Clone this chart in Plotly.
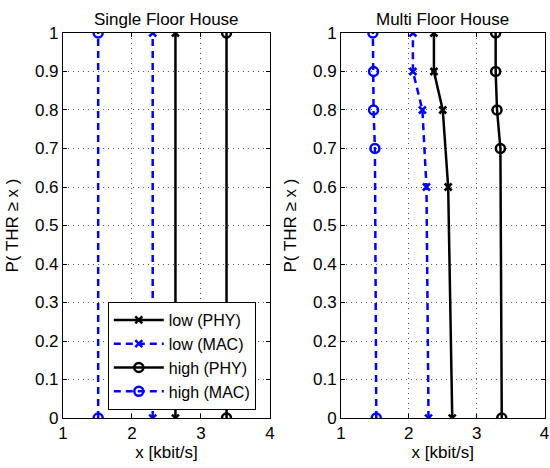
import plotly.graph_objects as go

# Single floor house
sf_y = [0, 1]
sf_low_phy = [2.63, 2.63]
sf_low_mac = [2.30, 2.30]
sf_high_phy = [3.37, 3.37]
sf_high_mac = [1.51, 1.51]

# Multi floor house
mf_low_y = [0, 0.6, 0.8, 0.9, 1]
mf_low_phy = [2.64, 2.58, 2.50, 2.37, 2.37]
mf_low_mac = [2.29, 2.26, 2.20, 2.06, 2.06]
mf_high_y = [0, 0.7, 0.8, 0.9, 1]
mf_high_phy = [3.37, 3.35, 3.30, 3.28, 3.28]
mf_high_mac = [1.52, 1.50, 1.48, 1.48, 1.47]

names = ["low (PHY)", "low (MAC)", "high (PHY)", "high (MAC)"]
x_ticks = [1, 2, 3, 4]
y_ticks = [0, 0.1, 0.2, 0.3, 0.4, 0.5, 0.6, 0.7, 0.8, 0.9, 1]
y_tick_text = ["0", "0.1", "0.2", "0.3", "0.4", "0.5", "0.6", "0.7", "0.8", "0.9", "1"]
titles = ["Single Floor House", "Multi Floor House"]
x_title = "x [kbit/s]"
y_title = "P( THR ≥ x )"

BLUE = "#0000FF"
styles = [
    dict(color="black", dash="solid", symbol="x-thin-open", size=7, lw=2.5),
    dict(color=BLUE, dash="7px,5px", symbol="x-thin-open", size=7, lw=2.5),
    dict(color="black", dash="solid", symbol="circle-open", size=9, lw=2.5),
    dict(color=BLUE, dash="7px,5px", symbol="circle-open", size=9, lw=2.5),
]

fig = go.Figure()

def add(xs, ys, i, xa, ya, show):
    s = styles[i]
    fig.add_trace(go.Scatter(
        x=xs, y=ys, mode="lines+markers", name=names[i],
        xaxis=xa, yaxis=ya, showlegend=show,
        line=dict(color=s["color"], width=s["lw"], dash=s["dash"]),
        marker=dict(symbol=s["symbol"], size=s["size"], color=s["color"],
                    line=dict(color=s["color"], width=2.5)),
    ))

add(sf_low_phy, sf_y, 0, "x", "y", True)
add(sf_low_mac, sf_y, 1, "x", "y", True)
add(sf_high_phy, sf_y, 2, "x", "y", True)
add(sf_high_mac, sf_y, 3, "x", "y", True)
add(mf_low_phy, mf_low_y, 0, "x2", "y2", False)
add(mf_low_mac, mf_low_y, 1, "x2", "y2", False)
add(mf_high_phy, mf_high_y, 2, "x2", "y2", False)
add(mf_high_mac, mf_high_y, 3, "x2", "y2", False)

FAM = "Liberation Sans, Arial, sans-serif"
tick_font = dict(family=FAM, size=17, color="black")
font = dict(family=FAM, size=17, color="black")
legend_font = dict(family=FAM, size=16, color="black")

GRID = dict(showgrid=True, gridcolor="#555", griddash="1px,4px", gridwidth=1)

def xaxis(domain):
    return dict(domain=domain, range=[1, 4], tickvals=x_ticks, ticks="inside",
                ticklen=4, tickcolor="black", showline=True, linecolor="black",
                linewidth=1, mirror="allticks", zeroline=False, automargin=False,
                title=dict(text=x_title, font=font, standoff=2),
                tickfont=tick_font, **GRID)

YDOM = [0.1068, 0.9295]

def yaxis():
    return dict(domain=YDOM, range=[0, 1], tickvals=y_ticks,
                ticktext=y_tick_text,
                ticks="inside", ticklen=4, tickcolor="black", showline=True,
                linecolor="black", linewidth=1, mirror="allticks",
                zeroline=False, automargin=False,
                tickfont=tick_font, **GRID)

XD1 = [0.1145, 0.4909]
XD2 = [0.62, 0.99]
xa1 = xaxis(XD1); xa1["anchor"] = "y"
xa2 = xaxis(XD2); xa2["anchor"] = "y2"
ya1 = yaxis(); ya1["anchor"] = "x"
ya2 = yaxis(); ya2["anchor"] = "x2"

ymid = (YDOM[0] + YDOM[1]) / 2
annotations = [
    dict(text=titles[0], x=sum(XD1) / 2, y=YDOM[1], xref="paper", yref="paper",
         xanchor="center", yanchor="bottom", yshift=2, showarrow=False, font=font),
    dict(text=titles[1], x=sum(XD2) / 2, y=YDOM[1], xref="paper", yref="paper",
         xanchor="center", yanchor="bottom", yshift=2, showarrow=False, font=font),
    dict(text=y_title, x=13 / 550, y=ymid, xref="paper", yref="paper",
         xanchor="center", yanchor="middle", textangle=-90, showarrow=False, font=font),
    dict(text=y_title, x=291 / 550, y=ymid, xref="paper", yref="paper",
         xanchor="center", yanchor="middle", textangle=-90, showarrow=False, font=font),
]

fig.update_layout(
    width=550, height=468,
    margin=dict(l=0, r=0, t=0, b=0, autoexpand=False),
    paper_bgcolor="white", plot_bgcolor="white",
    font=font,
    xaxis=xa1, yaxis=ya1, xaxis2=xa2, yaxis2=ya2,
    showlegend=True,
    legend=dict(x=0.196, y=0.1239, xanchor="left", yanchor="bottom",
                bgcolor="white", bordercolor="black", borderwidth=1,
                font=legend_font, tracegroupgap=0, itemwidth=50),
    annotations=annotations,
)

fig.write_html("out.html")
